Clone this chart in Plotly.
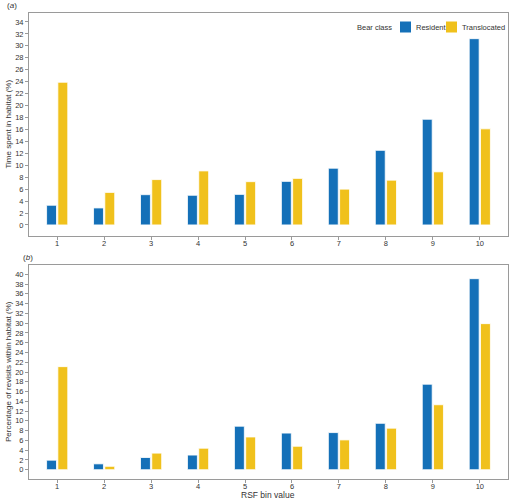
import plotly.graph_objects as go

bins = [1, 2, 3, 4, 5, 6, 7, 8, 9, 10]
bin_labels = [str(b) for b in bins]

time_resident = [3.3, 2.85, 5.07, 4.97, 5.12, 7.3, 9.5, 12.5, 17.7, 31.2]
time_translocated = [23.9, 5.45, 7.6, 9.05, 7.25, 7.8, 6.0, 7.5, 8.9, 16.1]

revisit_resident = [1.95, 1.2, 2.5, 3.0, 8.9, 7.5, 7.6, 9.5, 17.5, 39.1]
revisit_translocated = [21.1, 0.7, 3.4, 4.4, 6.7, 4.8, 6.1, 8.5, 13.3, 29.9]

series_names = ["Resident", "Translocated"]
legend_title = "Bear class"

blue = "#1470b8"
yellow = "#f0c11c"
txt = "#333333"
line_col = "#9a9a9a"
FONT = "Liberation Sans, Arial, Helvetica, sans-serif"

W, H = 510, 504
L, R = 29, 2
PW = W - L - R

fig = go.Figure()

def add_bars(x, vals, name, color, xa, ya):
    fig.add_trace(go.Bar(
        x=x, y=vals, name=name,
        marker=dict(color=color, line=dict(color="white", width=0.8)),
        xaxis=xa, yaxis=ya, showlegend=False, offsetgroup=name,
    ))

add_bars(bins, time_resident, series_names[0], blue, "x", "y")
add_bars(bins, time_translocated, series_names[1], yellow, "x", "y")
add_bars(bins, revisit_resident, series_names[0], blue, "x2", "y2")
add_bars(bins, revisit_translocated, series_names[1], yellow, "x2", "y2")

def py(px):
    return 1 - px / H

def pxx(px):
    return (px - L) / PW

axis_common = dict(
    showline=True, linecolor=line_col, linewidth=1, mirror=True,
    ticks="outside", ticklen=3, tickcolor=line_col, tickwidth=1,
    showgrid=False, zeroline=False, automargin=False,
    tickfont=dict(family=FONT, size=7.5, color=txt),
)
xaxis_extra = dict(ticklabelstandoff=-3)

fig.update_layout(
    width=W, height=H,
    margin=dict(l=L, r=R, t=0, b=0, autoexpand=False),
    paper_bgcolor="white", plot_bgcolor="white",
    barmode="group", bargap=0.52, bargroupgap=0.12,
    font=dict(family=FONT, color=txt, size=8),
    showlegend=False,
    xaxis=dict(domain=[0, 1], anchor="y", range=[0.4, 10.6], tickmode="array",
               tickvals=bins, ticktext=bin_labels, **axis_common, **xaxis_extra),
    yaxis=dict(domain=[py(236), py(13)], anchor="x", range=[-1.85, 35.5],
               tickmode="linear", tick0=0, dtick=2, **axis_common),
    xaxis2=dict(domain=[0, 1], anchor="y2", range=[0.4, 10.6], tickmode="array",
                tickvals=bins, ticktext=bin_labels, **axis_common, **xaxis_extra),
    yaxis2=dict(domain=[py(479), py(265)], anchor="x2", range=[-1.9, 41.9],
                tickmode="linear", tick0=0, dtick=2, **axis_common),
)

f8 = dict(size=8, color=txt, family=FONT)
f75 = dict(size=7.5, color=txt, family=FONT)
annotations = [
    dict(text="(<i>a</i>)", x=pxx(12), y=py(6)),
    dict(text="(<i>b</i>)", x=pxx(28), y=py(257)),
    dict(text="Time spent in habitat (%)", x=pxx(8), y=(py(236) + py(13)) / 2, textangle=-90),
    dict(text="Percentage of revisits within habitat (%)", x=pxx(8),
         y=(py(479) + py(265)) / 2, textangle=-90),
    dict(text="RSF bin value", x=pxx(268), y=py(495), font=dict(size=8.5, color=txt, family=FONT)),
    # legend
    dict(text=legend_title, x=pxx(394), y=py(27), xanchor="right", font=f75),
    dict(text=series_names[0], x=pxx(414), y=py(27), xanchor="left", font=f75),
    dict(text=series_names[1], x=pxx(460), y=py(27), xanchor="left", font=f75),
]
for a in annotations:
    a.setdefault("xref", "paper")
    a.setdefault("yref", "paper")
    a.setdefault("showarrow", False)
    a.setdefault("font", f8)
    a.setdefault("xanchor", "center")
    a.setdefault("yanchor", "middle")
fig.update_layout(annotations=annotations)

shapes = [
    dict(type="rect", xref="paper", yref="paper", x0=pxx(400), x1=pxx(411), y0=py(32.5), y1=py(21.5),
         fillcolor=blue, line=dict(width=0)),
    dict(type="rect", xref="paper", yref="paper", x0=pxx(446), x1=pxx(457), y0=py(32.5), y1=py(21.5),
         fillcolor=yellow, line=dict(width=0)),
]
fig.update_layout(shapes=shapes)

fig.write_html("out.html", config={"displayModeBar": False},
               post_script="document.body.style.margin='0';document.body.style.overflow='hidden';")
